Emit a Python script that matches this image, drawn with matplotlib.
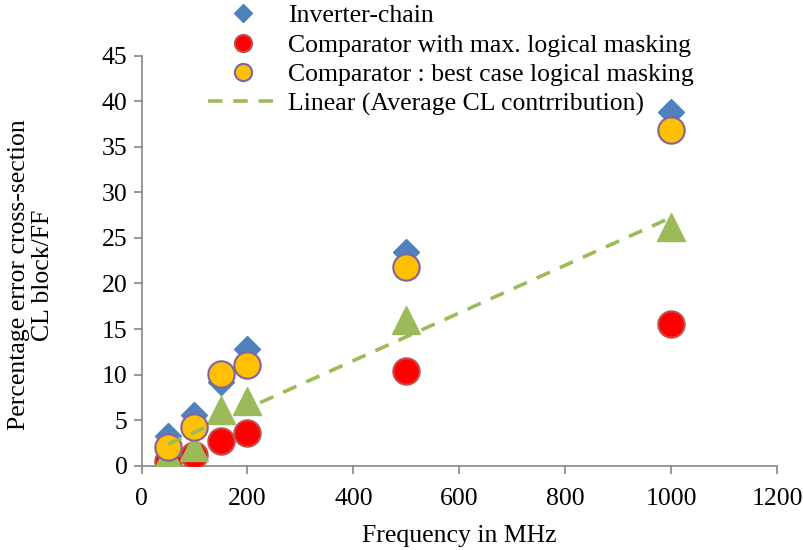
import numpy as np
import matplotlib
matplotlib.use('Agg')
import matplotlib.pyplot as plt

plt.rcParams['font.family'] = ['Liberation Serif', 'DejaVu Serif']

# frequency points (MHz)
freq = [50, 100, 150, 200, 500, 1000]

inverter_chain = [3.3, 5.6, 9.2, 12.8, 23.5, 38.8]
comp_max_mask = [0.5, 1.2, 2.7, 3.6, 10.4, 15.6]
comp_best_mask = [2.1, 4.2, 10.1, 11.0, 21.8, 36.9]
avg_cl = [1.2, 2.1, 6.1, 7.1, 16.0, 26.2]

BLUE = '#4F81BD'
RED = '#FF0000'
RED_EDGE = '#C0504D'
ORANGE = '#FFC000'
PURPLE = '#8064A2'
GREEN = '#9BBB59'
AXIS_GRAY = '#868686'

fig = plt.figure(figsize=(8.04, 5.5), dpi=100)
ax = fig.add_axes([0.176, 0.1533, 0.7905, 0.7454])

ax.plot(freq, inverter_chain, 'D', ms=13.5, color=BLUE, mec=BLUE,
        label='Inverter-chain', zorder=3)
ax.plot(freq, comp_max_mask, 'o', ms=19, color=RED, mec=RED_EDGE, mew=1.5,
        label='Comparator with max. logical masking', zorder=4)
ax.plot(freq, avg_cl, '^', ms=20, color=GREEN, mec=GREEN, zorder=5)
ax.plot(freq, comp_best_mask, 'o', ms=19, color=ORANGE, mec=PURPLE, mew=1.5,
        label='Comparator : best case logical masking', zorder=6)

# linear trend of the average CL contribution
slope, icpt = np.polyfit(freq, avg_cl, 1)
xs = np.array([min(freq), max(freq)])
ax.plot(xs, slope * xs + icpt, color=GREEN, lw=2.6, dashes=(4, 3),
        label='Linear (Average CL contrribution)', zorder=7)

ax.set_xlim(0, 1200)
ax.set_ylim(0, 45)
ax.set_xticks(range(0, 1201, 200))
ax.set_yticks(range(0, 46, 5))

for s in ['top', 'right']:
    ax.spines[s].set_visible(False)
for s in ['left', 'bottom']:
    ax.spines[s].set_color(AXIS_GRAY)
    ax.spines[s].set_linewidth(1.2)
ax.tick_params(axis='both', colors=AXIS_GRAY, labelcolor='black',
               labelsize=18.5, length=6, width=1.2)
ax.tick_params(axis='x', pad=10)
ax.tick_params(axis='y', pad=4)

ax.set_xlabel('Frequency in MHz', fontsize=18.5, labelpad=11)
fig.text(31 / 804, 1 - 275 / 550,
         'Percentage error cross-section\nCL block/FF', fontsize=18.5,
         rotation=90, ha='center', va='center', linespacing=1.15,
         multialignment='center')

fig.legend(loc='upper left', bbox_to_anchor=(0.246, 1.011),
           frameon=False, fontsize=18.5, handlelength=2.7, markerscale=0.65,
           handletextpad=0.4, labelspacing=0.25, borderaxespad=0)

fig.savefig('out.png', dpi=100)
